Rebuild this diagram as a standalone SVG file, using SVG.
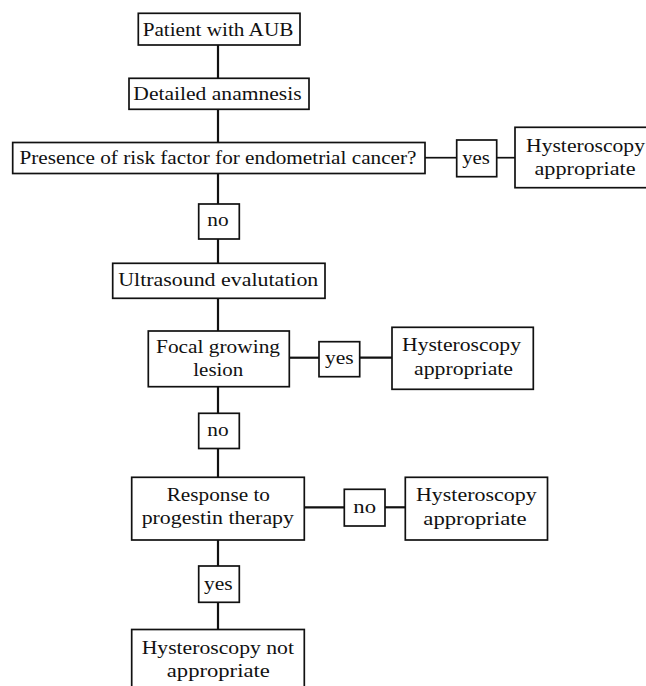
<svg xmlns="http://www.w3.org/2000/svg" width="646" height="686" viewBox="0 0 646 686">
<style>
rect{fill:#fff;stroke:#111;stroke-width:1.7}
text{font-family:"Liberation Serif","Times New Roman",serif;font-size:19px;fill:#111;text-anchor:middle}
.c line{stroke:#111;stroke-width:2.2}
</style>
<rect x="0" y="0" width="646" height="686" style="fill:#fff;stroke:none"/>
<g class="c" id="connectors">
<line x1="218" y1="45" x2="218" y2="78.5"/>
<line x1="218" y1="109.3" x2="218" y2="142.5"/>
<line x1="218" y1="173.5" x2="218" y2="204"/>
<line x1="218" y1="239" x2="218" y2="263.3"/>
<line x1="218" y1="298.3" x2="218" y2="331"/>
<line x1="218" y1="386.7" x2="218" y2="413.3"/>
<line x1="218" y1="448.5" x2="218" y2="477.3"/>
<line x1="218" y1="540" x2="218" y2="566"/>
<line x1="218" y1="602.3" x2="218" y2="629.5"/>
<line x1="425" y1="157.7" x2="456.7" y2="157.7" style="stroke-width:1.7"/>
<line x1="496.7" y1="157.7" x2="515" y2="157.7" style="stroke-width:1.7"/>
<line x1="289.3" y1="357.7" x2="319" y2="357.7"/>
<line x1="359.7" y1="357.7" x2="392" y2="357.7"/>
<line x1="304.3" y1="507.3" x2="344.3" y2="507.3"/>
<line x1="385" y1="507.3" x2="405.3" y2="507.3"/>
</g>
<g id="n-patient">
<rect x="138.3" y="13.3" width="161.7" height="31.7"/>
<text x="218" y="35.5" textLength="150.7" lengthAdjust="spacingAndGlyphs">Patient with AUB</text>
</g>
<g id="n-anamnesis">
<rect x="129" y="78.3" width="180" height="31"/>
<text x="217.5" y="100.3" textLength="168.3" lengthAdjust="spacingAndGlyphs">Detailed anamnesis</text>
</g>
<g id="n-risk">
<rect x="12.7" y="142.5" width="412.3" height="31"/>
<text x="218" y="164.3" textLength="397" lengthAdjust="spacingAndGlyphs">Presence of risk factor for endometrial cancer?</text>
</g>
<g id="l-yes1">
<rect x="456.7" y="140" width="40" height="36.7"/>
<text x="476" y="163.5" textLength="27.7" lengthAdjust="spacingAndGlyphs">yes</text>
</g>
<g id="n-hyst1">
<rect x="515" y="127.3" width="140" height="60.4"/>
<text x="585.5" y="151.5" textLength="119" lengthAdjust="spacingAndGlyphs">Hysteroscopy</text>
<text x="585" y="175" textLength="101" lengthAdjust="spacingAndGlyphs">appropriate</text>
</g>
<g id="l-no1">
<rect x="198.7" y="204" width="40.6" height="35"/>
<text x="218" y="226" textLength="21.3" lengthAdjust="spacingAndGlyphs">no</text>
</g>
<g id="n-ultrasound">
<rect x="112.7" y="263.3" width="212.3" height="35"/>
<text x="218.3" y="286" textLength="200" lengthAdjust="spacingAndGlyphs">Ultrasound evalutation</text>
</g>
<g id="n-focal">
<rect x="148.3" y="331" width="141" height="55.7"/>
<text x="218" y="352.5" textLength="124" lengthAdjust="spacingAndGlyphs">Focal growing</text>
<text x="218.3" y="375.5" textLength="50" lengthAdjust="spacingAndGlyphs">lesion</text>
</g>
<g id="l-yes2">
<rect x="319" y="341.7" width="40.7" height="35"/>
<text x="339.3" y="363.5" textLength="28.7" lengthAdjust="spacingAndGlyphs">yes</text>
</g>
<g id="n-hyst2">
<rect x="392" y="327.3" width="141.3" height="62"/>
<text x="461.5" y="351.3" textLength="119" lengthAdjust="spacingAndGlyphs">Hysteroscopy</text>
<text x="463.5" y="375" textLength="99" lengthAdjust="spacingAndGlyphs">appropriate</text>
</g>
<g id="l-no2">
<rect x="198.7" y="413.3" width="40.6" height="35.2"/>
<text x="218" y="436" textLength="21.3" lengthAdjust="spacingAndGlyphs">no</text>
</g>
<g id="n-response">
<rect x="131.7" y="477.3" width="172.6" height="62.7"/>
<text x="218.3" y="501" textLength="103.3" lengthAdjust="spacingAndGlyphs">Response to</text>
<text x="217.8" y="524.3" textLength="152.3" lengthAdjust="spacingAndGlyphs">progestin therapy</text>
</g>
<g id="l-no3">
<rect x="344.3" y="489.3" width="40.7" height="36.7"/>
<text x="364.7" y="513" textLength="22.7" lengthAdjust="spacingAndGlyphs">no</text>
</g>
<g id="n-hyst3">
<rect x="405.3" y="477.3" width="142.2" height="62.7"/>
<text x="476.3" y="501" textLength="120.7" lengthAdjust="spacingAndGlyphs">Hysteroscopy</text>
<text x="475" y="524.5" textLength="103.3" lengthAdjust="spacingAndGlyphs">appropriate</text>
</g>
<g id="l-yes3">
<rect x="198.7" y="566" width="40.6" height="36.3"/>
<text x="218.3" y="590" textLength="28.7" lengthAdjust="spacingAndGlyphs">yes</text>
</g>
<g id="n-not">
<rect x="131.7" y="629.5" width="172.6" height="60"/>
<text x="217.8" y="654" textLength="152.3" lengthAdjust="spacingAndGlyphs">Hysteroscopy not</text>
<text x="218.3" y="677" textLength="103" lengthAdjust="spacingAndGlyphs">appropriate</text>
</g>
</svg>
